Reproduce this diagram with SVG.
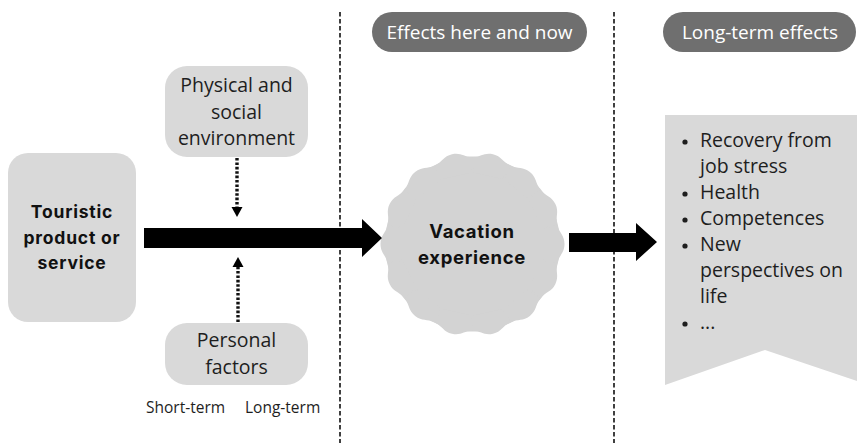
<svg xmlns="http://www.w3.org/2000/svg" xmlns:xlink="http://www.w3.org/1999/xlink" width="857" height="443" viewBox="0 0 857 443">
<style>
.box{fill:#d9d9d9}
.pill{fill:#6f6f6f}
.t{font-family:"Open Sans","Liberation Sans",sans-serif;fill:#1e1e1e}
.b{font-family:Inter,"Liberation Sans",sans-serif;font-weight:700;fill:#111}
.w{font-family:"Open Sans","Liberation Sans",sans-serif;fill:#fff;font-size:19px;text-anchor:middle}
.sep{stroke:#111;stroke-width:1.6;stroke-dasharray:4.5 2.5;fill:none}
.dot{stroke:#111;stroke-width:3.4;stroke-dasharray:2.6 1.8;fill:none}
</style>
<defs>
<path id="lobe" d="M-19.36,-84.82 C-10.59,-86.82 -9,-92 0,-92 C9,-92 10.59,-86.82 19.36,-84.82 L15,-70 L-15,-70 Z" fill="#d3d3d3"/>
</defs>
<rect width="857" height="443" fill="#fff"/>

<g id="dividers">
<line class="sep" x1="340" y1="12" x2="340" y2="443"/>
<line class="sep" x1="614" y1="12" x2="614" y2="443"/>
</g>

<g id="header-now">
<rect class="pill" x="372" y="12" width="215" height="40" rx="20"/>
<text class="w" x="479.5" y="39">Effects here and now</text>
</g>
<g id="header-long">
<rect class="pill" x="663" y="12" width="193" height="40" rx="20"/>
<text class="w" x="760" y="39">Long-term effects</text>
</g>

<g id="touristic">
<rect class="box" x="8" y="153" width="128" height="169" rx="20"/>
<text class="b" font-size="17.5" letter-spacing="0.8" text-anchor="middle"><tspan x="72" y="218">Touristic</tspan><tspan x="72" y="244">product or</tspan><tspan x="72" y="269">service</tspan></text>
</g>

<g id="environment">
<rect class="box" x="165" y="66" width="143" height="91" rx="22"/>
<text class="t" font-size="19.5" text-anchor="middle"><tspan x="236.5" y="92">Physical and</tspan><tspan x="236.5" y="119">social</tspan><tspan x="236.5" y="145">environment</tspan></text>
</g>

<g id="personal">
<rect class="box" x="165" y="323" width="143" height="62" rx="22"/>
<text class="t" font-size="19.5" text-anchor="middle"><tspan x="236.5" y="347">Personal</tspan><tspan x="236.5" y="374">factors</tspan></text>
</g>

<g id="term-labels">
<text class="t" font-size="15.5" x="146" y="413">Short-term</text>
<text class="t" font-size="15.5" x="245" y="413">Long-term</text>
</g>

<g id="vacation">
<g transform="translate(472.5,244)">
<circle r="87.5" fill="#d3d3d3"/>
<use xlink:href="#lobe" transform="rotate(12.857)"/>
<use xlink:href="#lobe" transform="rotate(38.571)"/>
<use xlink:href="#lobe" transform="rotate(64.286)"/>
<use xlink:href="#lobe" transform="rotate(90)"/>
<use xlink:href="#lobe" transform="rotate(115.714)"/>
<use xlink:href="#lobe" transform="rotate(141.429)"/>
<use xlink:href="#lobe" transform="rotate(167.143)"/>
<use xlink:href="#lobe" transform="rotate(192.857)"/>
<use xlink:href="#lobe" transform="rotate(218.571)"/>
<use xlink:href="#lobe" transform="rotate(244.286)"/>
<use xlink:href="#lobe" transform="rotate(270)"/>
<use xlink:href="#lobe" transform="rotate(295.714)"/>
<use xlink:href="#lobe" transform="rotate(321.429)"/>
<use xlink:href="#lobe" transform="rotate(347.143)"/>
</g>
<text class="b" font-size="18.5" letter-spacing="0.7" text-anchor="middle"><tspan x="472" y="238">Vacation</tspan><tspan x="472" y="264">experience</tspan></text>
</g>

<g id="long-term">
<polygon class="box" points="665,115 857,115 857,381 765,350 665,385"/>
<g fill="#1e1e1e">
<circle cx="685" cy="142" r="2.6"/>
<circle cx="685" cy="194" r="2.6"/>
<circle cx="685" cy="220" r="2.6"/>
<circle cx="685" cy="246" r="2.6"/>
<circle cx="685" cy="324" r="2.6"/>
</g>
<text class="t" font-size="19.5"><tspan x="700" y="147">Recovery from</tspan><tspan x="700" y="173">job stress</tspan><tspan x="700" y="199">Health</tspan><tspan x="700" y="225">Competences</tspan><tspan x="700" y="251">New</tspan><tspan x="700" y="277">perspectives on</tspan><tspan x="700" y="303">life</tspan><tspan x="700" y="329">...</tspan></text>
</g>

<g id="connectors">
<polygon points="144,228 362,228 362,219 382,238 362,257 362,248 144,248" fill="#000"/>
<polygon points="569,233 636,233 636,223 657,242 636,261 636,252 569,252" fill="#000"/>
<line class="dot" x1="237" y1="158" x2="237" y2="208"/>
<polygon points="231.5,207 242.5,207 237,217" fill="#000"/>
<line class="dot" x1="238" y1="322" x2="238" y2="266"/>
<polygon points="232.5,267 243.5,267 238,257" fill="#000"/>
</g>
</svg>
